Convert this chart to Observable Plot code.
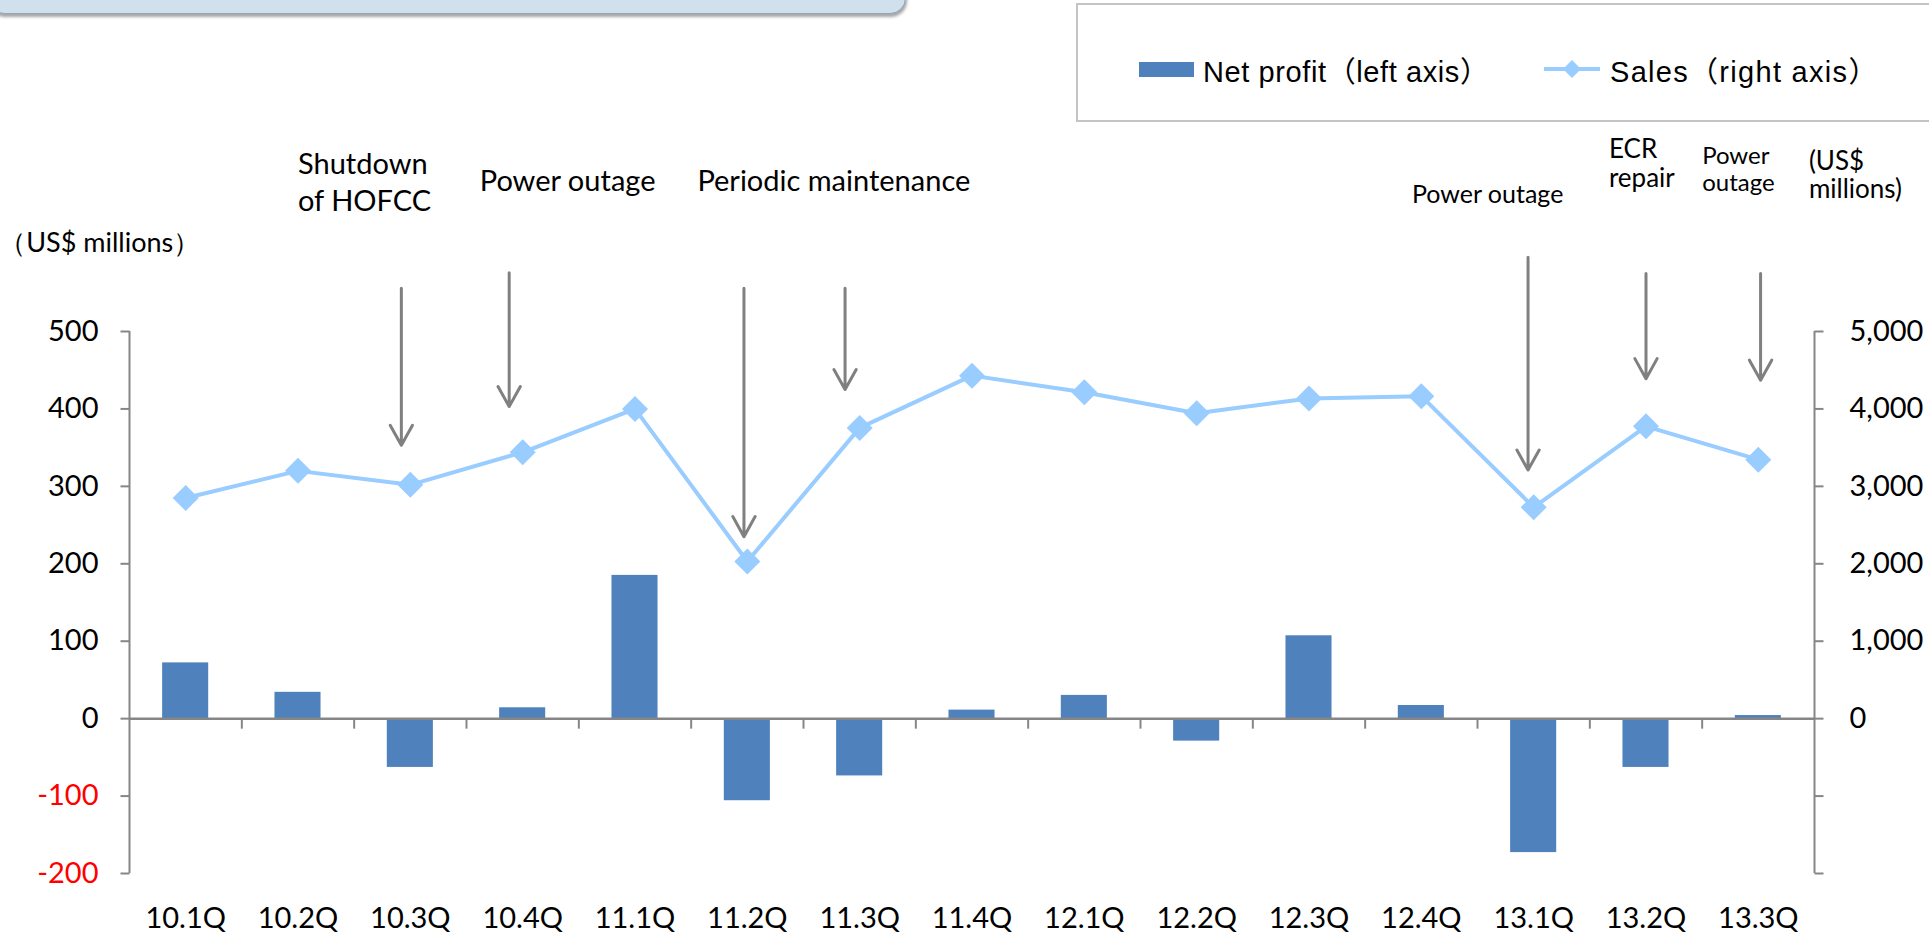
<!DOCTYPE html>
<html>
<head>
<meta charset="utf-8">
<script src="https://cdn.jsdelivr.net/npm/d3@7"></script>
<script src="https://cdn.jsdelivr.net/npm/@observablehq/plot@0.6"></script>
<style>
  html, body { margin: 0; padding: 0; background: #fff; overflow: hidden; }
  body { width: 1929px; height: 932px; position: relative; }
  #topbox { position: absolute; left: -12px; top: -30px; width: 916px; height: 42px;
    background: #D0E1ED; border: 1.5px solid #8DA7BD; border-radius: 16px;
    box-shadow: 1px 3px 3px rgba(0,0,0,0.35); }
  #legend { position: absolute; left: 1076px; top: 3px; width: 880px; height: 119px;
    border: 2px solid #C4C4C4; box-sizing: border-box; background: #fff; }
  .lg { position: absolute; top: 46px; height: 36px; display: flex; align-items: center;
    font-family: "Liberation Sans", "Noto Sans CJK SC", sans-serif; font-size: 29px; letter-spacing: 1.3px;
    color: #000; white-space: nowrap; }
  #chart { position: absolute; left: 0; top: 0; }
</style>
</head>
<body>
<div id="chart"></div>
<div id="topbox"></div>
<div id="legend"></div>
<script>
// ---------- data ----------
const categories = ["10.1Q","10.2Q","10.3Q","10.4Q","11.1Q","11.2Q","11.3Q","11.4Q","12.1Q","12.2Q","12.3Q","12.4Q","13.1Q","13.2Q","13.3Q"];
const netProfit  = [72, 34, -63, 14, 185, -106, -74, 11, 30, -29, 107, 17, -173, -63, 4];
const sales      = [2850, 3200, 3020, 3440, 4000, 2030, 3755, 4430, 4215, 3945, 4135, 4165, 2730, 3775, 3345];
const leftTicks  = [-200, -100, 0, 100, 200, 300, 400, 500];
const rightTicks = [-2000, -1000, 0, 1000, 2000, 3000, 4000, 5000];
const salesRatio = 10; // right axis (sales) = 10 × left axis units

// event arrows (category, shift within band, start and tip in left-axis units)
const arrowCats  = ["10.3Q","10.4Q","11.2Q","11.3Q","13.1Q","13.2Q","13.3Q"];
const arrowShift = [-0.08, -0.12, -0.03, -0.13, -0.05, 0, 0.02];
const arrowTop   = [556, 576, 556, 556, 596, 575, 575];
const arrowTip   = [353, 403, 235, 425, 321, 439, 437];

// annotation texts (x in category index units, y = last baseline in left-axis units)
const noteText   = ["Shutdown\nof HOFCC", "Power outage", "Periodic maintenance", "Power outage", "ECR\nrepair", "Power\noutage", "(US$\nmillions)", "（US$ millions）"];
const noteX      = [1.0, 3.40, 5.77, 11.59, 12.67, 13.50, 14.45, -1.66];
const noteY      = [656, 682, 682, 666, 686, 682, 672, 603];
const noteAnchor = ["start", "middle", "middle", "middle", "start", "start", "start", "start"];
const noteSize   = [29, 29, 29, 25, 26, 24, 26, 27];
const noteLH     = [1.28, 1, 1, 1, 1.15, 1.12, 1.08, 1];

// ---------- derived tables ----------
const rows = categories.map((c, i) => ({cat: c, i, profit: netProfit[i], sales: sales[i]}));
const arrows = arrowCats.map((c, k) => ({x: categories.indexOf(c) + arrowShift[k], y1: arrowTop[k], y2: arrowTip[k]}));
const notes = noteText.map((t, k) => ({text: t, x: noteX[k], y: noteY[k], anchor: noteAnchor[k], size: noteSize[k], lh: noteLH[k]}));
const boundaries = d3.range(1, categories.length).map(k => k - 0.5);

// ---------- styles ----------
const barColor = "#4F81BD";
const lineColor = "#99CCFF";
const axisColor = "#868686";
const font = "Lato, 'Noto Sans', sans-serif";

const sym = (pts, close) => ({draw(ctx) { ctx.moveTo(pts[0][0], pts[0][1]); for (const p of pts.slice(1)) ctx.lineTo(p[0], p[1]); if (close) ctx.closePath(); }});
const diamond = sym([[0,-13],[13,0],[0,13],[-13,0]], true);
const tickLeft = sym([[-9,0],[0,0]]);
const tickRight = sym([[0,0],[9,0]]);
const tickDown = sym([[0,0],[0,10]]);

const W = 1929, H = 932;
const x0 = -0.5, x1 = categories.length - 0.5;

const noteMarks = notes.map(n => Plot.text([n], {
  x: "x", y: "y", text: "text", textAnchor: n.anchor, lineAnchor: "bottom",
  lineHeight: n.lh, fontSize: n.size, fill: "#000", fontFamily: font
}));

const chart = Plot.plot({
  width: W, height: H,
  marginLeft: 129, marginRight: W - 1814, marginTop: 331, marginBottom: H - 873,
  x: {type: "linear", domain: [x0, x1], axis: null},
  y: {type: "linear", domain: [-200, 500], axis: null},
  style: {fontFamily: font, background: "transparent", overflow: "visible"},
  marks: [
    // bars
    Plot.rectY(rows, {x1: d => d.i - 0.205, x2: d => d.i + 0.205, y1: 0, y2: "profit", fill: barColor}),
    // zero line + category ticks
    Plot.ruleY([0], {stroke: axisColor, strokeWidth: 2.5}),
    Plot.dot(boundaries, {x: d => d, y: () => 0, symbol: tickDown, stroke: axisColor, strokeWidth: 2, fill: "none"}),
    // left axis
    Plot.ruleX([x0], {y1: -200, y2: 500, stroke: axisColor, strokeWidth: 2}),
    Plot.dot(leftTicks, {x: () => x0, y: d => d, symbol: tickLeft, stroke: axisColor, strokeWidth: 2, fill: "none"}),
    Plot.text(leftTicks, {x: () => x0, y: d => d, text: d => String(d), dx: -31, textAnchor: "end",
      fill: d => d < 0 ? "#FF0000" : "#000", fontSize: 29}),
    // right axis
    Plot.ruleX([x1], {y1: -200, y2: 500, stroke: axisColor, strokeWidth: 2}),
    Plot.dot(rightTicks, {x: () => x1, y: d => d / salesRatio, symbol: tickRight, stroke: axisColor, strokeWidth: 2, fill: "none"}),
    Plot.text(rightTicks.filter(d => d >= 0), {x: () => x1, y: d => d / salesRatio, text: d => d3.format(",")(d), dx: 35,
      textAnchor: "start", fill: "#000", fontSize: 29}),
    // category labels
    Plot.text(rows, {x: "i", y: () => -200, text: "cat", dy: 54, lineAnchor: "bottom", fill: "#000", fontSize: 29}),
    // sales line
    Plot.line(rows, {x: "i", y: d => d.sales / salesRatio, stroke: lineColor, strokeWidth: 4}),
    Plot.dot(rows, {x: "i", y: d => d.sales / salesRatio, symbol: diamond, fill: lineColor, stroke: "none"}),
    // arrows
    Plot.arrow(arrows, {x1: "x", x2: "x", y1: "y1", y2: "y2", stroke: "#808080", strokeWidth: 3, headLength: 11.5, headAngle: 58}),
    ...noteMarks
  ]
});
document.getElementById("chart").appendChild(chart);

// ---------- legend ----------
const legend = document.getElementById("legend");
legend.innerHTML = `
  <div class="lg" style="left:61px; letter-spacing:0.6px">
    <span style="display:inline-block;width:55px;height:15px;background:${barColor};margin-right:9px"></span>
    <span>Net profit（left axis）</span>
  </div>
  <div class="lg" style="left:465px">
    <svg width="58" height="24" style="margin-right:9px"><line x1="1" y1="12" x2="57" y2="12" stroke="${lineColor}" stroke-width="4"/>
      <path d="M29,3 L38,12 L29,21 L20,12 Z" fill="${lineColor}"/></svg>
    <span>Sales（right axis）</span>
  </div>`;
</script>
</body>
</html>
